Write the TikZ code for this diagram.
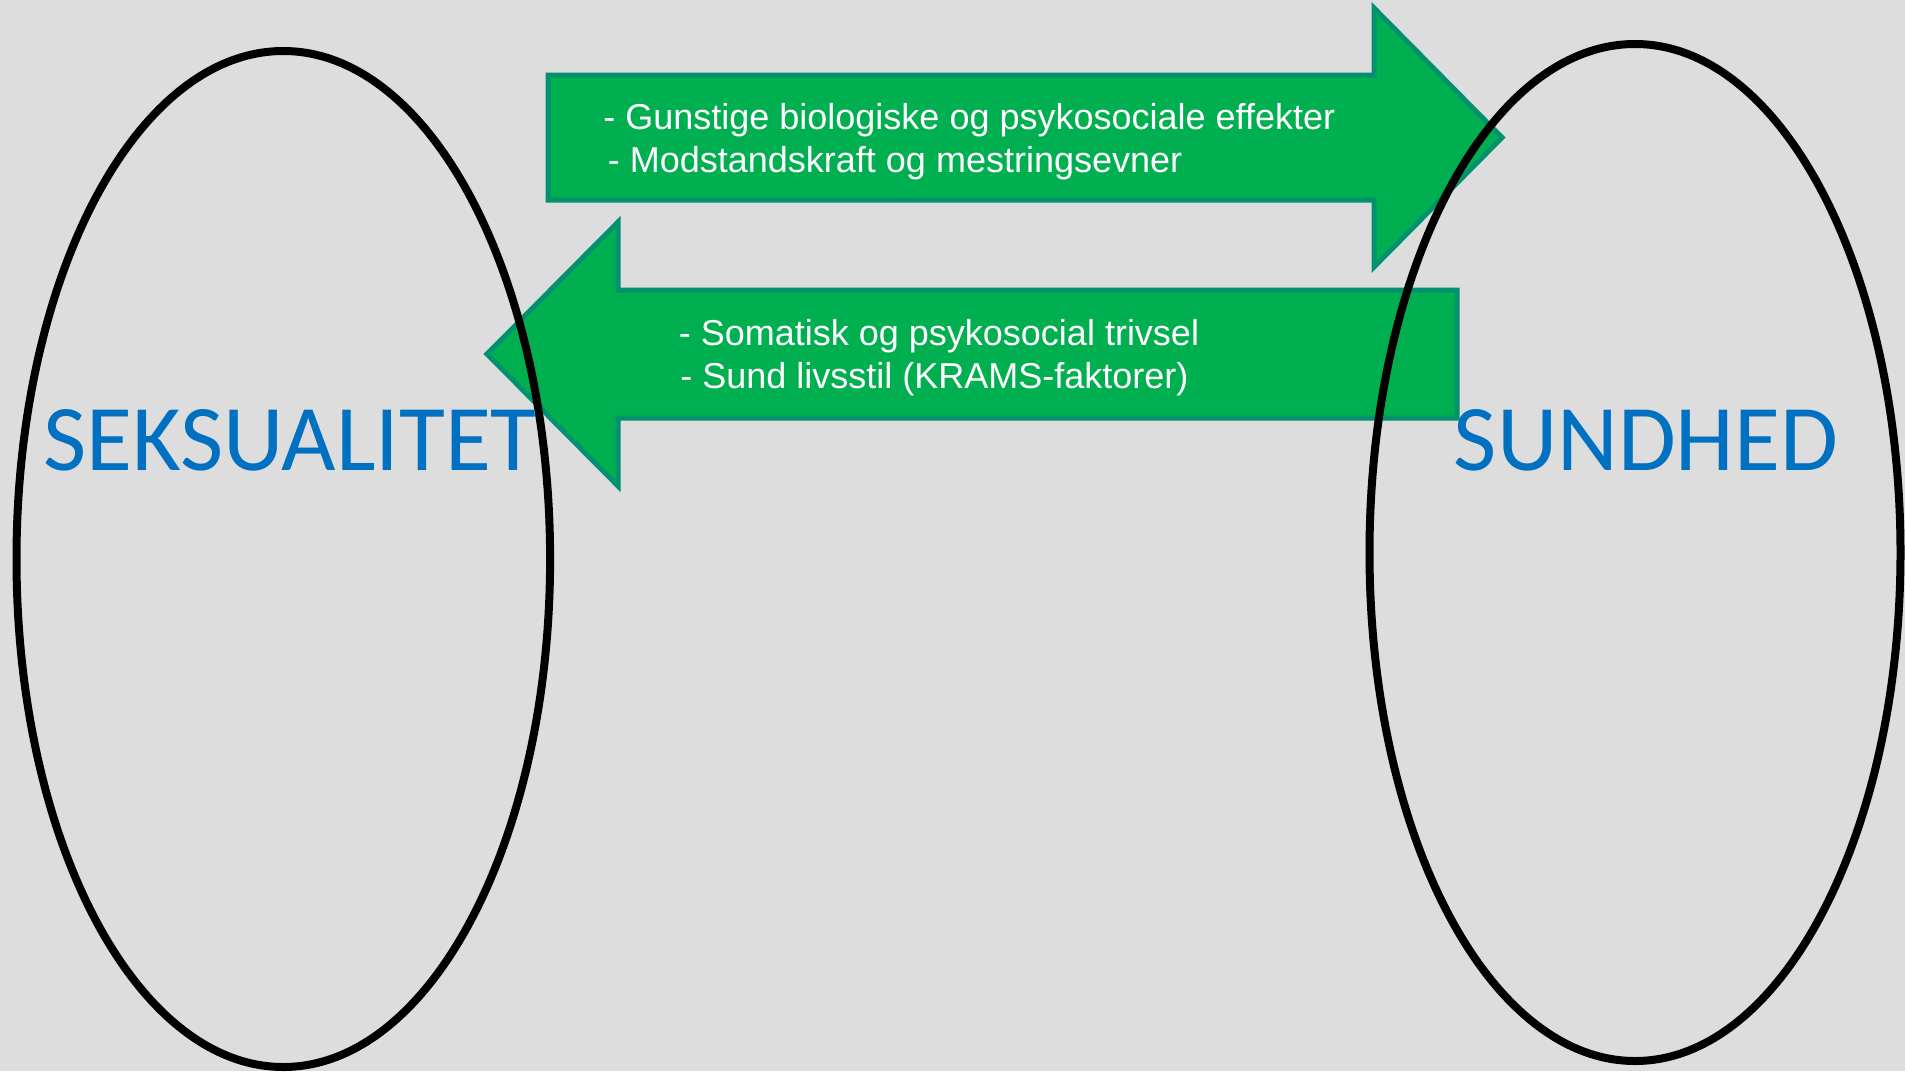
\documentclass[tikz,border=0pt]{standalone}
\usepackage{fontspec}
\setmainfont{Liberation Sans}
\newfontfamily\calib{Carlito}
\definecolor{bg}{RGB}{221,221,221}
\definecolor{arrowfill}{RGB}{0,176,80}
\definecolor{arrowedge}{RGB}{0,145,110}
\definecolor{labelblue}{RGB}{0,112,192}
\tikzset{
  bigarrow/.style={fill=arrowfill, draw=arrowedge, line width=2.5pt, line join=miter},
  oval/.style={draw=black, line width=4pt, fill=none},
  arrowtext/.style={text=white, font=\fontsize{18pt}{21.6pt}\selectfont, inner sep=0pt, anchor=base west},
  biglabel/.style={text=labelblue, font=\calib\fontsize{47pt}{51pt}\selectfont, inner sep=0pt, anchor=base}
}
\begin{document}
\begin{tikzpicture}[x=0.5pt, y=-0.5pt]
\fill[bg] (0,0) rectangle (1905,1071);
\useasboundingbox (0,0) rectangle (1905,1071);
% arrows
\draw[bigarrow] (548,75) -- (1374,75) -- (1374,8) -- (1502,137.5) -- (1374,267) -- (1374,200) -- (548,200) -- cycle;
\draw[bigarrow] (1457,290) -- (618,290) -- (618,222) -- (487,354) -- (618,486) -- (618,418) -- (1457,418) -- cycle;
% ellipses
\coordinate (lc) at (283.3,559);
\coordinate (rc) at (1635,552.5);
\draw[oval] (lc) ellipse [x radius=133.4pt, y radius=254pt];
\draw[oval] (rc) ellipse [x radius=132.75pt, y radius=254.25pt];
% arrow texts
\node[arrowtext] (t1) at (603,129) {- Gunstige biologiske og psykosociale effekter};
\node[arrowtext] (t2) at (607.5,172.5) {- Modstandskraft og mestringsevner};
\node[arrowtext] (t3) at (678.5,345) {- Somatisk og psykosocial trivsel};
\node[arrowtext] (t4) at (680,388) {- Sund livsstil (KRAMS-faktorer)};
% labels
\node[biglabel] (sex) at (290,470) {SEKSUALITET};
\node[biglabel] (sund) at (1646,470) {SUNDHED};
\end{tikzpicture}
\end{document}
